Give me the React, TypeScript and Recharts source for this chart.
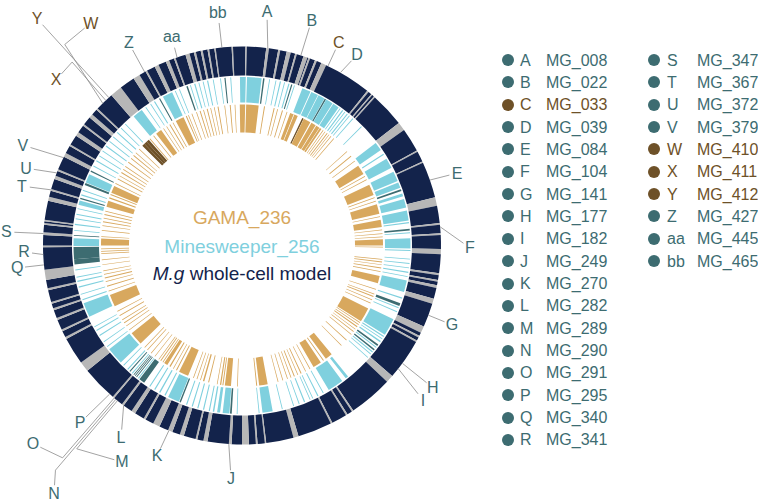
import React from "react";
import { PieChart, Pie, Cell } from "recharts";

// genome map in degrees, clockwise from the origin at the top: [start, length]
type Span = [number, number];

const NAVY = "#13234b";
const GREY = "#b7b7b7";
const SKY = "#7fd0de";
const GOLD = "#d8a85e";
const TEAL = "#3d6c71";
const BROWN = "#6e5128";

// genes not covered by the whole-cell model (grey ticks in the outer ring)
const notInModel: Span[] = [
  [1, 0.4], [7, 0.8], [10.5, 0.6], [13, 1.2], [15.5, 0.5], [18, 1.2], [19.5, 0.5], [21.5, 0.6], [23.5, 1.5],
  [39, 0.5], [40.5, 0.4], [41.5, 0.4], [52, 2.5], [61.5, 0.4], [65, 0.4], [76, 2.5], [83.5, 0.5], [86.5, 0.5],
  [91, 1.5], [98, 0.6], [100, 0.5], [101.5, 0.8], [105.5, 1.5], [114, 2], [117, 0.5], [118.5, 0.5], [131, 2.2],
  [146, 0.5], [148, 0.5], [153, 0.5], [163.5, 1.5], [173, 0.4], [175.5, 0.5], [178, 2], [183, 0.8], [190, 1.2],
  [193, 0.5], [197, 1.2], [200.5, 1.3], [204.5, 2], [209, 0.6], [212.5, 1.2], [216.5, 0.6], [220, 0.5], [231, 3],
  [242, 0.6], [244.5, 0.5], [248, 0.6], [251, 0.6], [253, 0.5], [257, 0.6], [260, 3], [269.5, 0.5], [273, 0.8],
  [276, 0.5], [277, 0.4], [283, 1.2], [286, 0.5], [289.5, 1], [292, 0.5], [296.5, 1.2], [300, 0.5], [303.5, 1.2],
  [307, 0.5], [310, 1.2], [313, 0.5], [319, 3.5], [327, 2], [331, 0.5], [334, 1.2], [337.5, 1], [340, 0.5],
  [343.5, 1.2], [346, 0.6], [348, 0.6], [350, 0.5], [352, 0.4], [357, 0.4],
];

// Minesweeper_256 hits (light blue ring)
const mineHits: Span[] = [
  [359.3, 0.7], [0, 1.3], [1.7, 5], [9.3, 0.3], [11.5, 0.3], [13, 0.4], [14.5, 0.3], [16, 0.4], [18, 0.3],
  [21, 3], [24.3, 2.5], [27, 2.3], [30, 2.5], [32.8, 2.2], [35.5, 0.3], [36.5, 0.4], [37.5, 0.3], [38.5, 0.4],
  [39.5, 0.3], [41, 0.3], [45, 0.3], [52.5, 3], [57, 0.4], [59, 3.5], [64, 3.5], [68, 2], [72, 1], [74, 3],
  [78, 3.5], [82, 0.4], [85.5, 0.3], [87.5, 3.5], [91.5, 0.4], [94.5, 0.3], [96, 0.3], [97.5, 0.3], [99, 0.4],
  [100.5, 0.3], [102, 4], [108, 0.4], [111.5, 0.4], [113, 0.3], [116, 6], [122.5, 0.4], [123.5, 0.3],
  [124.5, 0.5], [127, 0.4], [129, 0.4], [130, 0.3], [131.5, 0.3], [141, 1], [143.5, 5.5], [151, 0.3], [153, 0.4],
  [155, 0.3], [156, 0.3], [158, 0.4], [160, 0.3], [162, 0.3], [166, 0.3], [169.5, 3.5], [174, 0.3], [181.5, 0.3],
  [184.3, 2.3], [187.5, 1], [189.5, 0.5], [191, 0.4], [193, 0.4], [195, 0.4], [197, 0.4], [199, 0.4], [202, 4],
  [207, 0.4], [209, 0.5], [211, 0.4], [213, 0.4], [217.8, 0.3], [220.5, 0.3], [222.5, 0.4], [224.5, 0.3],
  [226, 6], [233, 0.3], [235, 0.3], [237.5, 0.4], [239.5, 0.4], [241, 0.3], [245, 5], [251, 0.4], [253, 0.3],
  [255.5, 0.4], [257.5, 0.4], [259, 0.3], [261.5, 0.3], [269.8, 2.7], [275, 0.3], [277, 0.4], [279, 0.3],
  [280.5, 0.4], [282.5, 0.3], [284, 1.5], [287.3, 0.4], [289, 0.3], [292, 3], [298, 0.3], [300, 0.4], [302, 0.3],
  [304, 0.3], [306, 0.4], [308, 0.3], [310, 0.3], [312, 0.4], [314, 0.3], [316, 0.3], [320, 3.5], [325, 0.3],
  [327, 0.3], [328.5, 0.4], [332, 3.5], [336.5, 0.3], [338, 0.3], [342, 0.3], [343.5, 0.4], [345, 0.3],
  [346.5, 0.3], [348, 0.4], [350, 0.3], [352.5, 0.3], [356, 0.3],
];

// GAMA_236 hits (gold ring)
const gamaHits: Span[] = [
  [0, 1.3], [1.7, 5.1], [9, 0.4], [13, 0.4], [14.5, 0.3], [16.5, 0.4], [18.5, 0.3], [20, 1.5], [21.8, 1.5],
  [26, 3], [29.5, 2], [31.8, 1.5], [33.5, 0.8], [35, 0.3], [36, 0.3], [37, 0.4], [38, 0.3], [39, 0.3], [40.5, 0.3],
  [48, 0.3], [50.5, 0.4], [53, 0.3], [55.5, 4], [60.5, 0.3], [62, 0.3], [64.5, 4.5], [70, 0.3], [71.5, 0.3],
  [73, 4], [78, 0.3], [79.5, 3], [83.5, 0.3], [85, 0.3], [86.3, 0.3], [87.5, 2.5], [90.5, 0.3], [95.5, 0.3],
  [96.5, 0.4], [97.7, 0.3], [99, 0.4], [100.5, 0.3], [102.5, 3], [108, 0.3], [110, 0.3], [111, 0.4], [112.5, 0.3],
  [114, 0.3], [116.5, 6], [123, 0.3], [124, 0.3], [125, 0.4], [126.3, 0.3], [127.5, 0.3], [129, 0.3], [132, 0.3],
  [135, 0.3], [140.5, 3], [144.5, 0.4], [146, 3.5], [151, 0.3], [153, 0.3], [155, 0.4], [156.5, 0.3], [158, 0.4],
  [159.5, 0.3], [161, 0.3], [163, 0.3], [165, 0.3], [169.5, 3.5], [173.8, 0.4], [181.7, 0.3], [184.5, 2.5],
  [187.6, 0.4], [188.5, 0.5], [190, 0.3], [193.5, 0.4], [195.5, 0.6], [197, 0.3], [198.5, 0.3], [200, 0.3],
  [202.5, 4], [207.5, 0.4], [209, 0.3], [210.5, 0.5], [212, 1.5], [214, 0.3], [215, 0.4], [216, 0.3], [218, 0.3],
  [220, 0.3], [222, 0.3], [223.5, 0.3], [226, 5.5], [233, 0.3], [235, 0.3], [236.5, 0.4], [238, 0.3], [240, 0.4],
  [242, 0.3], [244.5, 5], [251, 0.3], [253, 0.4], [255, 0.3], [256.5, 0.4], [258, 0.3], [259.5, 0.3], [262, 0.3],
  [264, 0.3], [266.5, 0.3], [267.5, 0.3], [268.5, 0.3], [270, 2.8], [273.5, 0.3], [276, 0.3], [278, 0.3],
  [279.5, 0.4], [281, 0.3], [282.5, 0.4], [284, 0.3], [286, 2.5], [289.5, 0.5], [291, 0.4], [292, 3], [296, 0.3],
  [298, 0.4], [299.5, 0.3], [301, 0.4], [302.5, 0.3], [304, 0.3], [306, 0.4], [308, 0.3], [309.5, 0.4], [311, 0.3],
  [313, 0.3], [319, 0.4], [321, 0.3], [322.5, 2.5], [326, 0.3], [327.5, 0.3], [329, 0.4], [330.5, 0.3], [332, 3.5],
  [336.5, 0.4], [337.5, 0.3], [339, 0.3], [341, 0.3], [342.5, 0.4], [344, 0.3], [345.5, 0.4], [347, 0.3],
  [348.5, 0.3], [350, 0.4], [352.8, 0.3], [355, 0.4], [357, 0.3], [359.1, 0.9],
];

// highlighted genes
const markIds = ["A", "B", "C", "D", "E", "F", "G", "H", "I", "J", "K", "L", "M", "N", "O", "P", "Q", "R",
  "S", "T", "U", "V", "W", "X", "Y", "Z", "aa", "bb"];
const markGenes = ["MG_008", "MG_022", "MG_033", "MG_039", "MG_084", "MG_104", "MG_141", "MG_177", "MG_182",
  "MG_249", "MG_270", "MG_282", "MG_289", "MG_290", "MG_291", "MG_295", "MG_340", "MG_341", "MG_347", "MG_367",
  "MG_372", "MG_379", "MG_410", "MG_411", "MG_412", "MG_427", "MG_445", "MG_465"];
const markRing = ["mine", "mine", "gama", "mine", "mine", "mine", "mine", "mine", "mine", "mine", "mine", "mine",
  "mine", "mine", "mine", "mine", "mine", "mine", "mine", "mine", "mine", "mine", "gama", "gama", "gama", "mine",
  "mine", "mine"];
const markSpans: Span[] = [
  [7.2, 0.5], [17, 0.4], [25.3, 0.6], [29.4, 0.5], [70.5, 0.6], [84.3, 0.6], [110, 1], [126, 0.6], [128, 0.5],
  [183.5, 0.6], [201.3, 0.5], [215.5, 2], [218.6, 0.3], [219.2, 0.3], [219.8, 0.3], [221.5, 0.4], [263.5, 1.8],
  [265.3, 4.2], [273.3, 0.3], [286, 0.5], [291, 0.8], [296, 0.4], [315, 1.2], [316.2, 1.2], [317.4, 1.2],
  [330.5, 0.4], [340.7, 0.5], [354, 0.4],
];

// label text placement: clockwise angle and radius; optional elbow point
const labelPlace: Record<string, { a: number; r: number; bend?: [number, number] }> = {
  A: { a: 6.1, r: 235 }, B: { a: 17.2, r: 236 }, C: { a: 25.5, r: 225 }, D: { a: 31.1, r: 222.5 },
  E: { a: 71.4, r: 227 }, F: { a: 90.6, r: 228 }, G: { a: 110.7, r: 224.5 }, H: { a: 126.7, r: 238 },
  I: { a: 130.5, r: 238 }, J: { a: 182.7, r: 233 }, K: { a: 202, r: 227 }, L: { a: 212.2, r: 227 },
  M: { a: 209, r: 247.5, bend: [219.1, 262] }, N: { a: 217.2, r: 311, bend: [219.7, 292] },
  O: { a: 226.5, r: 288, bend: [220.2, 278] }, P: { a: 222.4, r: 240 },
  Q: { a: 264.3, r: 226 }, R: { a: 268.3, r: 218 }, S: { a: 273.3, r: 236 }, T: { a: 285.1, r: 228 },
  U: { a: 289.7, r: 229.5 }, V: { a: 294.6, r: 241 },
  W: { a: 325.8, r: 269, bend: [318.6, 268] }, X: { a: 311.7, r: 249, bend: [317.2, 250] },
  Y: { a: 317.9, r: 305.5 }, Z: { a: 330.8, r: 232 }, aa: { a: 341.4, r: 220 }, bb: { a: 354.1, r: 234.7 },
};

const CX = 242;
const CY = 245.5;
const FONT = "'Liberation Sans', Arial, sans-serif";

type Run = { v: number; fill: string; id?: string };

function toRuns(items: { s: number; l: number; fill: string; id?: string }[], empty: string): Run[] {
  const sorted = [...items].sort((p, q) => p.s - q.s);
  const out: Run[] = [];
  let cur = 0;
  for (const it of sorted) {
    if (it.s > cur) out.push({ v: it.s - cur, fill: empty });
    const s = Math.max(it.s, cur);
    const e = Math.min(360, it.s + it.l);
    if (e > s) out.push({ v: e - s, fill: it.fill, id: it.id });
    cur = Math.max(cur, e);
  }
  if (cur < 360) out.push({ v: 360 - cur, fill: empty });
  return out;
}

const marks = markIds.map((id, i) => ({
  id,
  gene: markGenes[i],
  ring: markRing[i],
  s: markSpans[i][0],
  l: markSpans[i][1],
}));

const modelRuns = toRuns(notInModel.map(([s, l]) => ({ s, l, fill: GREY })), NAVY);
const mineRuns = toRuns(
  [
    ...mineHits.map(([s, l]) => ({ s, l, fill: SKY })),
    ...marks.filter((m) => m.ring === "mine").map((m) => ({ s: m.s, l: m.l, fill: TEAL })),
  ],
  "none"
);
const gamaRuns = toRuns(
  [
    ...gamaHits.map(([s, l]) => ({ s, l, fill: GOLD })),
    ...marks.filter((m) => m.ring === "gama").map((m) => ({ s: m.s, l: m.l, fill: BROWN })),
  ],
  "none"
);
const markRuns = toRuns(marks.map((m) => ({ s: m.s, l: m.l, fill: "none", id: m.id })), "none");

function polar(deg: number, r: number): [number, number] {
  const t = (deg * Math.PI) / 180;
  return [CX + r * Math.sin(t), CY - r * Math.cos(t)];
}

function markColor(id: string) {
  const m = marks.find((k) => k.id === id);
  return m && m.ring === "gama" ? BROWN : TEAL;
}

const renderMark = (p: any) => {
  const id: string | undefined = p.payload?.id ?? p.id;
  if (!id || !labelPlace[id]) return null;
  const place = labelPlace[id];
  const rad = (-p.midAngle * Math.PI) / 180;
  const x0 = p.cx + p.outerRadius * Math.cos(rad);
  const y0 = p.cy + p.outerRadius * Math.sin(rad);
  const [tx, ty] = polar(place.a, place.r);
  const pts: [number, number][] = [[x0, y0]];
  if (place.bend) pts.push(polar(place.bend[0], place.bend[1]));
  const [lx, ly] = pts[pts.length - 1];
  const d = Math.hypot(tx - lx, ty - ly);
  const gap = id.length > 1 ? 11 : 8;
  pts.push([tx - ((tx - lx) * gap) / d, ty - ((ty - ly) * gap) / d]);
  return (
    <g key={`mk-${id}`}>
      <polyline
        points={pts.map((q) => q.join(",")).join(" ")}
        fill="none"
        stroke="#8c8c8c"
        strokeWidth={0.8}
      />
      <text
        x={tx}
        y={ty}
        textAnchor="middle"
        dominantBaseline="central"
        fontFamily={FONT}
        fontSize={16}
        fill={markColor(id)}
      >
        {id}
      </text>
    </g>
  );
};

function Ring({ data, inner, outer }: { data: Run[]; inner: number; outer: number }) {
  return (
    <Pie
      data={data}
      dataKey="v"
      cx={CX}
      cy={CY}
      innerRadius={inner}
      outerRadius={outer}
      startAngle={90}
      endAngle={-270}
      paddingAngle={0}
      stroke="none"
      isAnimationActive={false}
    >
      {data.map((d, i) => (
        <Cell key={i} fill={d.fill} stroke="none" />
      ))}
    </Pie>
  );
}

function LegendBlock() {
  const col = (i: number) => (i < 18 ? 0 : 1);
  return (
    <div style={{ position: "absolute", left: 0, top: 0, fontFamily: FONT, fontSize: 16 }}>
      {marks.map((m, i) => {
        const c = col(i);
        const row = c === 0 ? i : i - 18;
        const y = 60 + row * 22.35;
        const color = m.ring === "gama" ? BROWN : TEAL;
        const dotX = c === 0 ? 508 : 654;
        const letX = c === 0 ? 520 : 667;
        const txtX = c === 0 ? 546 : 697;
        return (
          <React.Fragment key={m.id}>
            <div
              style={{
                position: "absolute",
                left: dotX - 6,
                top: y - 6,
                width: 12,
                height: 12,
                borderRadius: 6,
                background: color,
              }}
            />
            <div style={{ position: "absolute", left: letX, top: y - 9.5, color, lineHeight: "19px", whiteSpace: "nowrap" }}>
              {m.id}
            </div>
            <div style={{ position: "absolute", left: txtX, top: y - 9.5, color, lineHeight: "19px", whiteSpace: "nowrap" }}>
              {m.gene}
            </div>
          </React.Fragment>
        );
      })}
    </div>
  );
}

export default function App() {
  const center: React.CSSProperties = {
    position: "absolute",
    left: CX - 120,
    width: 240,
    textAlign: "center",
    fontFamily: FONT,
    fontSize: 19,
    lineHeight: "22px",
    whiteSpace: "nowrap",
  };
  return (
    <div style={{ position: "absolute", left: 0, top: 0, width: 758, height: 503, background: "#fff", overflow: "hidden" }}>
      <PieChart width={758} height={503} margin={{ top: 0, right: 0, bottom: 0, left: 0 }}>
        <Ring data={modelRuns} inner={170} outer={199} />
        <Ring data={mineRuns} inner={143} outer={168.5} />
        <Ring data={gamaRuns} inner={113} outer={141} />
        <Pie
          data={markRuns}
          dataKey="v"
          cx={CX}
          cy={CY}
          innerRadius={199}
          outerRadius={199}
          startAngle={90}
          endAngle={-270}
          paddingAngle={0}
          stroke="none"
          fill="none"
          isAnimationActive={false}
          labelLine={false}
          label={renderMark}
        />
      </PieChart>
      <div style={{ ...center, top: 218 - 11, color: GOLD }}>GAMA_236</div>
      <div style={{ ...center, top: 247 - 11, color: SKY }}>Minesweeper_256</div>
      <div style={{ ...center, top: 274 - 11, color: NAVY }}>
        <i>M.g</i> whole-cell model
      </div>
      <LegendBlock />
    </div>
  );
}
